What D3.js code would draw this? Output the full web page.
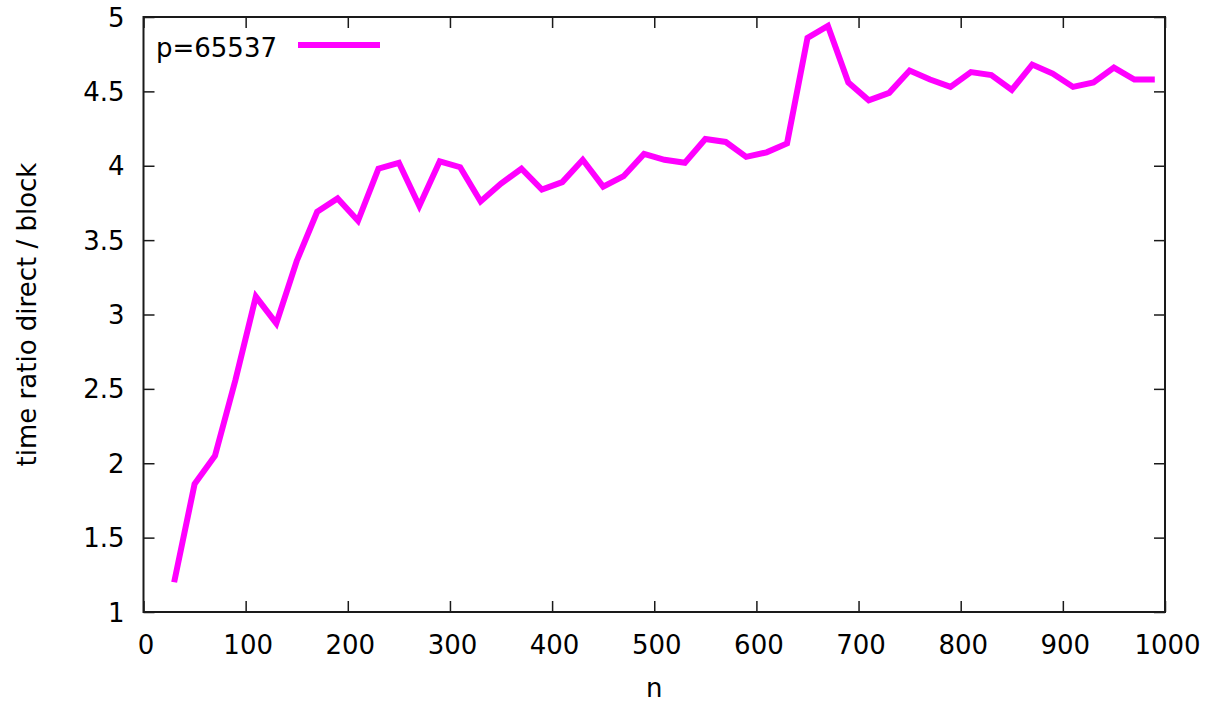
<!DOCTYPE html>
<html>
<head>
<meta charset="utf-8">
<script src="https://cdn.jsdelivr.net/npm/d3@7"></script>
<style>
  body { margin: 0; background: #fff; }
  svg { display: block; }
  text { font-family: "DejaVu Sans", sans-serif; fill: #000; }
</style>
</head>
<body>
<svg id="chart" width="1205" height="703"></svg>
<script>
const nValues = [30,50,70,90,110,130,150,170,190,210,230,250,270,290,310,330,350,370,390,410,430,450,470,490,510,530,550,570,590,610,630,650,670,690,710,730,750,770,790,810,830,850,870,890,910,930,950,970,990];
const ratioValues = [1.2,1.86,2.05,2.56,3.12,2.94,3.36,3.69,3.78,3.63,3.98,4.02,3.73,4.03,3.99,3.76,3.88,3.98,3.84,3.89,4.04,3.86,3.93,4.08,4.04,4.02,4.18,4.16,4.06,4.09,4.15,4.86,4.94,4.56,4.44,4.49,4.64,4.58,4.53,4.63,4.61,4.51,4.68,4.62,4.53,4.56,4.66,4.58,4.58];
const xTicks = [0,100,200,300,400,500,600,700,800,900,1000];
const yTicks = [1,1.5,2,2.5,3,3.5,4,4.5,5];
const seriesName = "p=65537";
const xLabel = "n";
const yLabel = "time ratio direct / block";

const svg = d3.select("#chart");
const L = 143.5, R = 1165, T = 17, B = 612;
const x = d3.scaleLinear().domain([0, 1000]).range([L, R]);
const y = d3.scaleLinear().domain([1, 5]).range([B, T]);
const fs = 26, tickLen = 11;

const axisColor = "#1a1a1a";

// bottom axis labels
const gx = svg.append("g").attr("transform", `translate(0,${B})`)
  .call(d3.axisBottom(x).tickValues(xTicks).tickFormat(d3.format("d")).tickSize(-tickLen).tickPadding(0));
gx.select(".domain").remove();
gx.selectAll("line").attr("stroke", axisColor).attr("stroke-width", 1.5);
gx.selectAll("text").attr("font-size", fs).attr("dy", null).attr("y", 42).attr("dx", 2)
  .style("font-family", "DejaVu Sans").attr("fill", "#000");

// top ticks (mirror)
const gxt = svg.append("g").attr("transform", `translate(0,${T})`)
  .call(d3.axisTop(x).tickValues(xTicks).tickSize(-tickLen).tickFormat(""));
gxt.select(".domain").remove();
gxt.selectAll("line").attr("stroke", axisColor).attr("stroke-width", 1.5);

// left axis
const gy = svg.append("g").attr("transform", `translate(${L},0)`)
  .call(d3.axisLeft(y).tickValues(yTicks).tickFormat(d => String(d)).tickSize(-tickLen).tickPadding(0));
gy.select(".domain").remove();
gy.selectAll("line").attr("stroke", axisColor).attr("stroke-width", 1.5);
gy.selectAll("text").attr("font-size", fs).attr("x", -19).attr("dy", "0.35em")
  .style("font-family", "DejaVu Sans").attr("fill", "#000");

// right ticks (mirror)
const gyr = svg.append("g").attr("transform", `translate(${R},0)`)
  .call(d3.axisRight(y).tickValues(yTicks).tickSize(-tickLen).tickFormat(""));
gyr.select(".domain").remove();
gyr.selectAll("line").attr("stroke", axisColor).attr("stroke-width", 1.5);

// frame
svg.append("rect").attr("x", L).attr("y", T).attr("width", R - L).attr("height", B - T)
  .attr("fill", "none").attr("stroke", axisColor).attr("stroke-width", 2);

// line
const line = d3.line().x((d, i) => x(nValues[i])).y(d => y(d));
svg.append("path").datum(ratioValues)
  .attr("d", line)
  .attr("fill", "none")
  .attr("stroke", "#ff00ff")
  .attr("stroke-width", 6)
  .attr("stroke-linejoin", "miter");

// legend
svg.append("text").attr("x", 156).attr("y", 57).attr("font-size", fs).text(seriesName);
svg.append("line").attr("x1", 298).attr("x2", 380).attr("y1", 45).attr("y2", 45)
  .attr("stroke", "#ff00ff").attr("stroke-width", 6);

// axis titles
svg.append("text").attr("x", (L + R) / 2).attr("y", 697).attr("text-anchor", "middle")
  .attr("font-size", fs).text(xLabel);
svg.append("text").attr("transform", `translate(36,${(T + B) / 2}) rotate(-90)`)
  .attr("text-anchor", "middle").attr("font-size", fs).text(yLabel);
</script>
</body>
</html>
